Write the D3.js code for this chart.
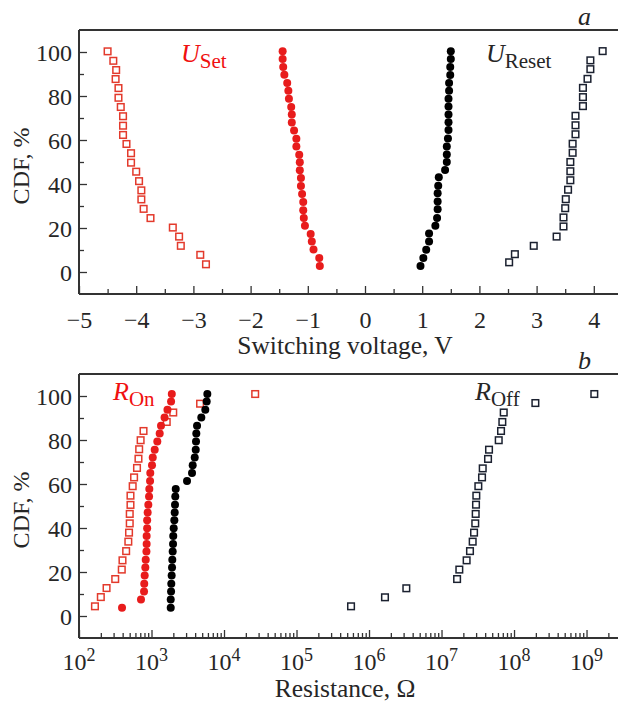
<!DOCTYPE html>
<html><head><meta charset="utf-8">
<script src="https://cdn.jsdelivr.net/npm/d3@7"></script>
<style>
html,body{margin:0;padding:0;background:#fff;}
svg{display:block;font-family:"Liberation Serif","Times New Roman",serif;}
</style></head>
<body>
<svg id="chart" width="618" height="703"></svg>
<script>
// ---------- Panel a: switching voltage ----------
const voltTicks = [-5,-4,-3,-2,-1,0,1,2,3,4];
const cdfTicks = [0,20,40,60,80,100];

const usetOpenV = [-4.50,-4.40,-4.35,-4.36,-4.31,-4.31,-4.27,-4.23,-4.23,-4.23,-4.17,-4.09,-4.09,-4.00,-3.95,-3.91,-3.91,-3.87,-3.75,-3.36,-3.25,-3.22,-2.88,-2.78];
const usetOpenCdf = [100.3,96.0,91.8,87.7,83.6,79.2,75.0,70.8,66.5,62.3,58.2,54.0,49.7,45.6,41.3,37.1,33.0,28.7,24.5,20.2,16.1,11.9,7.8,3.5];

const usetFillV = [-1.44,-1.44,-1.43,-1.41,-1.36,-1.34,-1.33,-1.29,-1.28,-1.28,-1.24,-1.20,-1.20,-1.15,-1.14,-1.14,-1.12,-1.12,-1.10,-1.08,-1.08,-1.07,-1.05,-0.95,-0.93,-0.90,-0.80,-0.79];
const usetFillCdf = [100.3,96.8,93.2,89.7,85.9,82.4,78.7,75.0,71.6,67.9,64.3,60.6,57.0,53.3,49.9,46.2,42.7,39.1,35.4,31.8,28.1,24.6,21.0,17.3,13.9,10.2,6.4,2.7];

const uresetFillV = [1.50,1.50,1.49,1.49,1.47,1.47,1.46,1.46,1.46,1.46,1.46,1.45,1.43,1.43,1.43,1.40,1.29,1.28,1.27,1.27,1.27,1.26,1.23,1.12,1.12,1.07,1.02,0.97];
const uresetFillCdf = [100.3,96.8,93.2,89.5,85.9,82.4,78.7,75.2,71.6,68.1,64.5,60.7,57.0,53.4,50.0,46.4,43.1,39.2,35.8,32.0,28.5,24.6,21.0,17.5,13.9,10.1,6.4,2.7];

const uresetOpenV = [4.155,3.94,3.94,3.89,3.81,3.81,3.81,3.68,3.68,3.68,3.63,3.63,3.59,3.59,3.59,3.55,3.51,3.50,3.47,3.47,3.35,2.95,2.62,2.52];
const uresetOpenCdf = [100.4,96.2,92.2,87.8,83.7,79.5,75.4,71.0,66.7,62.6,58.3,54.2,50.0,45.8,41.7,37.4,33.1,29.0,24.8,20.7,16.1,11.9,8.1,4.4];

// ---------- Panel b: resistance ----------
const resTickExps = [2,3,4,5,6,7,8,9];

const ronOpenR = [166,200,240,316,389,398,447,479,490,501,501,513,513,550,575,631,661,676,708,776,1622,1995,4677,26915];
const ronOpenCdf = [4.4,8.6,12.7,16.8,21.1,25.3,29.5,33.8,37.9,42.1,46.4,50.5,54.7,59.0,63.0,67.3,71.5,75.8,79.9,84.1,88.2,92.5,96.5,100.9];

const ronFillR = [392,716,789,794,805,822,832,851,857,857,871,871,885,904,925,933,955,962,1016,1040,1107,1202,1297,1352,1514,1660,1862,1905];
const ronFillCdf = [3.8,7.5,11.1,14.7,18.4,22.0,25.6,29.3,32.7,36.4,39.9,43.5,47.0,50.6,54.3,57.7,61.4,65.0,68.5,72.1,75.6,79.3,82.9,86.5,90.2,93.8,97.5,100.9];

const roffFillR = [1841,1841,1862,1875,1897,1919,1936,1959,1982,1995,2023,2065,2089,2109,2128,2158,3090,3622,3698,3945,4074,4111,4150,4246,4864,5521,5768,5888];
const roffFillCdf = [3.8,7.5,11.1,14.7,18.4,22.0,25.6,29.3,32.7,36.4,39.9,43.5,47.0,50.6,54.3,57.7,61.4,65.0,68.5,72.1,75.6,79.3,82.9,86.5,90.2,93.8,97.5,100.9];

const roffOpenR = [5.65e5,1.66e6,3.27e6,1.64e7,1.76e7,2.22e7,2.47e7,2.69e7,2.81e7,2.92e7,2.96e7,2.99e7,3.02e7,3.22e7,3.62e7,3.70e7,4.38e7,4.52e7,6.15e7,6.62e7,6.90e7,7.21e7,1.97e8,1.28e9];
const roffOpenCdf = [4.4,8.5,12.6,16.8,21.1,25.3,29.5,33.8,37.9,42.1,46.4,50.6,54.7,59.0,63.0,67.1,71.4,75.6,79.9,84.1,88.2,92.5,96.8,100.9];

// ---------- drawing ----------
const RED = "#e81c1c", RED_SQ = "#e33a2c", BLACK = "#000", BLACK_SQ = "#1b2130", FRAME = "#333", TXT = "#262626";
const TICK_FS = 24, TITLE_FS = 25.5;
const svg = d3.select("#chart");
svg.append("rect").attr("width",618).attr("height",703).attr("fill","#fff");

const W = 618, L = 79;

function panel(cfg){
  const g = svg.append("g");
  const {x, y, top, bottom} = cfg;
  g.append("line").attr("x1",L).attr("x2",W).attr("y1",top).attr("y2",top).attr("stroke",FRAME).attr("stroke-width",2);
  const yAxis = d3.axisLeft(y).tickValues(cdfTicks).tickSize(-8).tickPadding(7).tickFormat(d3.format("d"));
  const ya = g.append("g").attr("transform",`translate(${L},0)`).call(yAxis);
  const yMinor = d3.axisLeft(y).tickValues([10,30,50,70,90]).tickSize(-5).tickFormat("");
  const ym = g.append("g").attr("transform",`translate(${L},0)`).call(yMinor);
  [ya,ym].forEach(a=>{a.select(".domain").remove(); a.selectAll("line").attr("stroke",FRAME).attr("stroke-width",1.3);});
  ya.selectAll("text").attr("font-size",TICK_FS).attr("fill",TXT).attr("font-family","Liberation Serif").attr("dy","0.34em");
  g.append("line").attr("x1",L).attr("x2",L).attr("y1",top).attr("y2",bottom).attr("stroke",FRAME).attr("stroke-width",2);
  const xa = g.append("g").attr("transform",`translate(0,${bottom})`).call(cfg.xAxis);
  const xm = g.append("g").attr("transform",`translate(0,${bottom})`).call(cfg.xMinor);
  [xa,xm].forEach(a=>{a.select(".domain").remove(); a.selectAll("line").attr("stroke",FRAME).attr("stroke-width",1.3);});
  xa.selectAll("text").attr("font-size",TICK_FS).attr("fill",TXT).attr("font-family","Liberation Serif");
  g.append("line").attr("x1",L).attr("x2",W).attr("y1",bottom).attr("y2",bottom).attr("stroke",FRAME).attr("stroke-width",2);
  g.append("text").attr("transform",`translate(29,${(top+bottom)/2+4}) rotate(-90)`)
    .attr("text-anchor","middle").attr("font-size",24).attr("fill",TXT).text("CDF, %");
  return g;
}

function squares(g, xs, ys, xv, yv, color){
  g.append("g").selectAll("rect").data(xv.map((v,i)=>[v,yv[i]])).join("rect")
    .attr("x",d=>xs(d[0])-3.3).attr("y",d=>ys(d[1])-3.3).attr("width",6.6).attr("height",6.6)
    .attr("fill","#fff").attr("stroke",color).attr("stroke-width",1.5);
}
function dots(g, xs, ys, xv, yv, color){
  g.append("g").selectAll("circle").data(xv.map((v,i)=>[v,yv[i]])).join("circle")
    .attr("cx",d=>xs(d[0])).attr("cy",d=>ys(d[1])).attr("r",4).attr("fill",color);
}
function subLabel(g, x, yb, main, sub, color){
  const t = g.append("text").attr("x",x).attr("y",yb).attr("fill",color);
  t.append("tspan").attr("font-style","italic").attr("font-size",26).text(main);
  t.append("tspan").attr("font-size",21).attr("dy",6).text(sub);
}

// Panel a
const xa = d3.scaleLinear().domain([-5, 4.423]).range([L, W]);
const ya = d3.scaleLinear().domain([-10, 110]).range([294, 30]);
const ga = panel({
  x: xa, y: ya, top: 30, bottom: 294,
  xAxis: d3.axisBottom(xa).tickValues(voltTicks).tickSize(-8).tickPadding(17).tickFormat(d=> d<0 ? "\u2212"+Math.abs(d) : String(d)),
  xMinor: d3.axisBottom(xa).tickValues(d3.range(-4.5,4.4,1)).tickSize(-5).tickFormat("")
});
squares(ga, xa, ya, usetOpenV, usetOpenCdf, RED_SQ);
dots(ga, xa, ya, usetFillV, usetFillCdf, RED);
dots(ga, xa, ya, uresetFillV, uresetFillCdf, BLACK);
squares(ga, xa, ya, uresetOpenV, uresetOpenCdf, BLACK_SQ);
subLabel(ga, 181, 62, "U", "Set", "#f01010");
subLabel(ga, 486, 62, "U", "Reset", TXT);
ga.append("text").attr("x",578).attr("y",25).attr("font-size",26).attr("font-style","italic").attr("fill",TXT).text("a");
ga.append("text").attr("x",345).attr("y",354).attr("text-anchor","middle").attr("font-size",TITLE_FS).attr("fill",TXT).text("Switching voltage, V");

// Panel b
const xb = d3.scaleLog().domain([100, Math.pow(10, 9.434)]).range([L, W]);
const yb = d3.scaleLinear().domain([-10, 110]).range([638, 374]);
const minorR = [];
resTickExps.forEach(e=>{ for(let m=2;m<=9;m++){ const v=m*Math.pow(10,e); if(v < Math.pow(10,9.434)) minorR.push(v);} });
const gb = panel({
  x: xb, y: yb, top: 374, bottom: 638,
  xAxis: d3.axisBottom(xb).tickValues(resTickExps.map(e=>Math.pow(10,e))).tickSize(-8).tickPadding(14).tickFormat(""),
  xMinor: d3.axisBottom(xb).tickValues(minorR).tickSize(-5).tickFormat("")
});
const lbl = gb.append("g");
resTickExps.forEach(e=>{
  const t = lbl.append("text").attr("x", xb(Math.pow(10,e))).attr("y", 670).attr("text-anchor","middle").attr("font-size",TICK_FS).attr("fill",TXT);
  t.append("tspan").text("10");
  t.append("tspan").attr("font-size",18).attr("dy",-9).text(e);
});
squares(gb, xb, yb, ronOpenR, ronOpenCdf, RED_SQ);
dots(gb, xb, yb, ronFillR, ronFillCdf, RED);
dots(gb, xb, yb, roffFillR, roffFillCdf, BLACK);
squares(gb, xb, yb, roffOpenR, roffOpenCdf, BLACK_SQ);
subLabel(gb, 113, 400, "R", "On", "#f01010");
subLabel(gb, 475, 400, "R", "Off", TXT);
gb.append("text").attr("x",578).attr("y",369).attr("font-size",26).attr("font-style","italic").attr("fill",TXT).text("b");
gb.append("text").attr("x",345).attr("y",697).attr("text-anchor","middle").attr("font-size",TITLE_FS).attr("fill",TXT).text("Resistance, \u03A9");
</script>
</body></html>
